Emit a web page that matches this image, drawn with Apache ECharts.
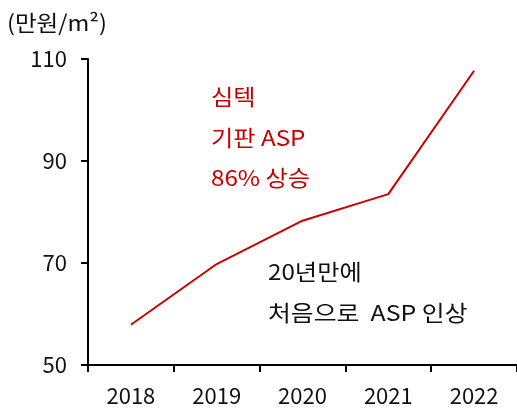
<!DOCTYPE html>
<html>
<head>
<meta charset="utf-8">
<script src="https://cdn.jsdelivr.net/npm/echarts@6/dist/echarts.min.js"></script>
<style>
	html, body { margin: 0; padding: 0; background: #fff; }
	#chart { width: 517px; height: 412px; }
</style>
</head>
<body>
<div id="chart"></div>
<script>
// 심텍 기판 ASP 추이
const years = ['2018', '2019', '2020', '2021', '2022']
const aspValues = [57.9, 69.8, 78.3, 83.5, 107.7]
const yTicks = { min: 50, max: 110, interval: 20 }
const unitLabel = '(만원/m²)'
const redNote = ['심텍', '기판 ASP', '86% 상승']
const blackNote = ['20년만에', '처음으로  ASP 인상']

const fontFamily = '"Noto Sans CJK KR", "Noto Sans", sans-serif'
const red = '#C80000'

let chart = echarts.init(document.getElementById('chart'))

// 한글 폭이 원본(맑은 고딕)보다 좁아서 가로로 살짝 늘림
let graphics = [{
	type: 'text',
	x: 7,
	y: 23,
	scaleX: 1.07,
	style: { text: unitLabel, font: '22px ' + fontFamily, fill: '#111', verticalAlign: 'middle' }
}]
redNote.forEach((t, i) => {
	graphics.push({
		type: 'text',
		x: 211,
		y: 97 + i * 40.5,
		scaleX: 1.1,
		style: { text: t, font: '22px ' + fontFamily, fill: red, verticalAlign: 'middle' }
	})
})
blackNote.forEach((t, i) => {
	graphics.push({
		type: 'text',
		x: 268,
		y: 272 + i * 41,
		scaleX: i === 0 ? 1.1 : 1.13,
		style: { text: t, font: '22px ' + fontFamily, fill: '#111', verticalAlign: 'middle' }
	})
})

let option = {
	animation: false,
	grid: { left: 88, right: -2, top: 59, bottom: 47 },
	xAxis: {
		type: 'category',
		data: years,
		boundaryGap: true,
		axisLine: { lineStyle: { color: '#000', width: 2 } },
		axisTick: { show: true, length: 7, inside: false, lineStyle: { color: '#000', width: 2 } },
		axisLabel: { color: '#111', fontSize: 22, fontFamily: fontFamily, margin: 20 }
	},
	yAxis: {
		type: 'value',
		min: yTicks.min,
		max: yTicks.max,
		interval: yTicks.interval,
		splitLine: { show: false },
		axisLine: { show: true, lineStyle: { color: '#000', width: 2 } },
		axisTick: { show: true, length: 7, lineStyle: { color: '#000', width: 2 } },
		axisLabel: { color: '#111', fontSize: 22, fontFamily: fontFamily, margin: 21 }
	},
	series: [{
		type: 'line',
		data: aspValues,
		showSymbol: false,
		lineStyle: { color: red, width: 2 }
	}],
	graphic: graphics
}
chart.setOption(option)
</script>
</body>
</html>
